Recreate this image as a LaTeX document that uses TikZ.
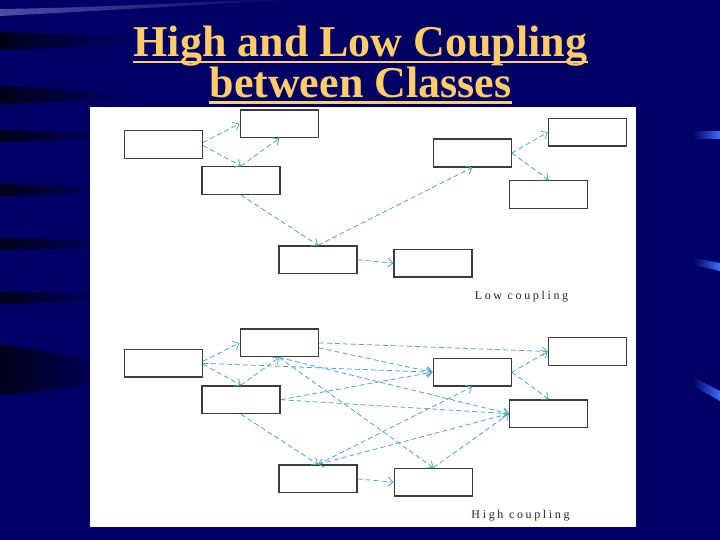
\documentclass[tikz,border=0pt]{standalone}
\usepackage{fontspec}
\setmainfont{Liberation Serif}
\newfontfamily\labelfont[LetterSpace=22]{Liberation Serif}
\usetikzlibrary{arrows.meta}
\definecolor{bg}{RGB}{0,0,102}
\definecolor{titlecol}{RGB}{255,204,102}
\definecolor{linkcol}{RGB}{70,170,205}
\definecolor{boxcol}{RGB}{60,60,60}
\definecolor{markblue}{RGB}{60,110,255}
\begin{document}
\begin{tikzpicture}[x=1pt,y=-1pt,
  cls/.style={draw=boxcol, line width=1.4pt, fill=white, minimum width=78pt, minimum height=27.7pt, inner sep=0pt},
  link/.style={draw=linkcol, line width=0.8pt, dash pattern=on 5pt off 3pt, -{Straight Barb[length=5pt,width=9pt]}},
  titletext/.style={text=titlecol, inner sep=0pt, font=\fontsize{44}{44}\selectfont\bfseries},
  uline/.style={draw=titlecol, line width=2.5pt},
  lab/.style={inner sep=0pt, text=black!85, font=\fontsize{12}{12}\labelfont},
  streak/.style={left color=black!75!bg, right color=bg, draw=none},
  bluemark/.style={left color=bg, right color=markblue, draw=none}]
\useasboundingbox (0,0) rectangle (720,540);
\fill[bg] (0,0) rectangle (720,540);
% background decorations
\shade[left color=bg!85!blue!70, right color=bg, draw=none] (0,16) .. controls (120,10) and (220,3) .. (300,0) -- (250,0) .. controls (180,3) and (80,8) .. (0,9) -- cycle;
\shade[streak] (0,32) .. controls (60,34) and (110,37) .. (140,40) -- (140,44) .. controls (110,46) and (60,48) .. (0,50) -- cycle;
\shade[streak] (0,86) .. controls (50,88) and (100,92) .. (130,96) -- (130,99) .. controls (100,101) and (50,102) .. (0,104) -- cycle;
\shade[streak] (0,130) .. controls (50,131) and (90,133) .. (120,135) -- (120,137) .. controls (90,139) and (50,141) .. (0,142) -- cycle;
\shade[streak] (0,184) .. controls (50,185) and (90,187) .. (120,189) -- (120,191) .. controls (90,193) and (50,195) .. (0,196) -- cycle;
\shade[streak] (0,238) .. controls (50,239) and (90,241) .. (120,243) -- (120,245) .. controls (90,247) and (50,249) .. (0,250) -- cycle;
\shade[streak] (0,292) .. controls (50,293) and (90,295) .. (120,297) -- (120,299) .. controls (90,301) and (50,303) .. (0,304) -- cycle;
\shade[streak] (0,345) .. controls (50,350) and (90,360) .. (120,372) -- (120,375) .. controls (90,385) and (50,392) .. (0,395) -- cycle;
\shade[bluemark] (693,132) -- (720,132) -- (720,139) -- (693,139) -- cycle;
\shade[bluemark] (693,258) -- (720,263) -- (720,271) -- (693,265) -- cycle;
\shade[bluemark] (693,377) -- (720,391) -- (720,401) -- (693,386) -- cycle;
% white panel
\fill[white] (90,107) rectangle (636,527);
% title
\node[titletext, anchor=base] (t1) at (360.5,57) {High and Low Coupling};
\node[titletext, anchor=base] (t2) at (360.5,98) {between Classes};
\draw[uline] ([yshift=-5pt]t1.base west) -- ([yshift=-5pt]t1.base east);
\draw[uline] ([yshift=-4.5pt]t2.base west) -- ([yshift=-4.5pt]t2.base east);
% low coupling diagram
\node[cls] (A) at (163.3,144.5) {};
\node[cls] (B) at (279.2,123.8) {};
\node[cls] (C) at (241,180.5) {};
\node[cls] (D) at (472.2,153) {};
\node[cls] (E) at (587.5,132.3) {};
\node[cls] (F) at (548.7,194.5) {};
\node[cls] (G) at (318,259.8) {};
\node[cls] (H) at (433.1,263.1) {};
\draw[link] ([yshift=2pt]A.east) -- (B.west);
\draw[link] ([yshift=-1pt]A.east) -- (C.north);
\draw[link] (C.north) -- (B.south);
\draw[link] (C.south) -- (G.north);
\draw[link] (G.north) -- (D.south);
\draw[link] (D.east) -- (E.west);
\draw[link] (D.east) -- (F.north);
\draw[link] (G.east) -- (H.west);
\node[lab, anchor=base] (low) at (521.5,299) {Low coupling};
% high coupling diagram
\node[cls] (A2) at (163.3,363.3) {};
\node[cls] (B2) at (279.2,342.9) {};
\node[cls] (C2) at (241,399.7) {};
\node[cls] (D2) at (472.2,372.2) {};
\node[cls] (E2) at (587.5,351.5) {};
\node[cls] (F2) at (548.7,413.7) {};
\node[cls] (G2) at (318,478.9) {};
\node[cls] (H2) at (433.3,482.2) {};
\draw[link] ([yshift=2pt]A2.east) -- (B2.west);
\draw[link] ([yshift=-1pt]A2.east) -- (C2.north);
\draw[link] (A2.east) -- (D2.west);
\draw[link] (C2.north) -- (B2.south);
\draw[link] (C2.south) -- (G2.north);
\draw[link] (C2.east) -- (D2.west);
\draw[link] (C2.east) -- (F2.west);
\draw[link] (B2.east) -- (E2.west);
\draw[link] ([yshift=-5pt]B2.east) -- (D2.west);
\draw[link] (B2.south) -- (F2.west);
\draw[link] (B2.south) -- (H2.north);
\draw[link] (G2.north) -- (D2.south);
\draw[link] (F2.west) -- (G2.north);
\draw[link] (H2.north) -- (F2.west);
\draw[link] (G2.east) -- (H2.west);
\draw[link] (D2.east) -- (E2.west);
\draw[link] (D2.east) -- (F2.north);
\node[lab, anchor=base] (high) at (520.5,518) {High coupling};
\end{tikzpicture}
\end{document}
